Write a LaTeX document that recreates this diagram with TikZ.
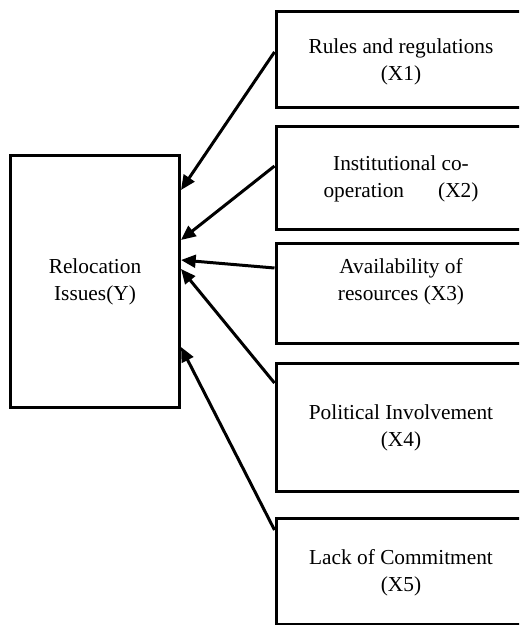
\documentclass[tikz,border=0pt]{standalone}
\usepackage{fontspec}
\setmainfont{Liberation Serif}
\usetikzlibrary{arrows.meta}

\begin{document}
\begin{tikzpicture}
  [x=0.75pt,y=-0.75pt,
   every node/.style={inner sep=0pt},
   box/.style={draw,line width=2.25pt,rectangle},
   lbl/.style={align=center,font=\fontsize{16}{20.25}\selectfont},
   arr/.style={line width=2.25pt,-{Triangle[length=11pt,width=9.5pt]}}]
  \clip (0,0) rectangle (519,625);
  \node[box,minimum width=126.75pt,minimum height=189pt] (y) at (95,281) {};
  \node[box,minimum width=188.25pt,minimum height=72pt] (x1) at (401.5,59) {};
  \node[box,minimum width=188.25pt,minimum height=77.25pt] (x2) at (401.5,177.5) {};
  \node[box,minimum width=188.25pt,minimum height=75pt] (x3) at (401.5,293) {};
  \node[box,minimum width=188.25pt,minimum height=96pt] (x4) at (401.5,427) {};
  \node[box,minimum width=188.25pt,minimum height=79.5pt] (x5) at (401.5,571) {};

  \node[lbl] (ty) at (95,282) {Relocation\\Issues(Y)};
  \node[lbl] (t1) at (401,62) {Rules and regulations\\(X1)};
  \node[lbl] (t2) at (401,179) {Institutional co-\\operation\hspace{1.6em}(X2)};
  \node[lbl] (t3) at (401,282) {Availability of\\resources (X3)};
  \node[lbl] (t4) at (401,428) {Political Involvement\\(X4)};
  \node[lbl] (t5) at (401,573) {Lack of Commitment\\(X5)};

  \foreach \from/\a/\b in {x1/5.25/68.25,x2/8.6/30.75,x3/18.75/15.75,x4/33/9,x5/30.75/-49.5}
    \draw[arr] ([yshift=\a pt]\from.west) -- ([yshift=\b pt]y.east);

\end{tikzpicture}
\end{document}
